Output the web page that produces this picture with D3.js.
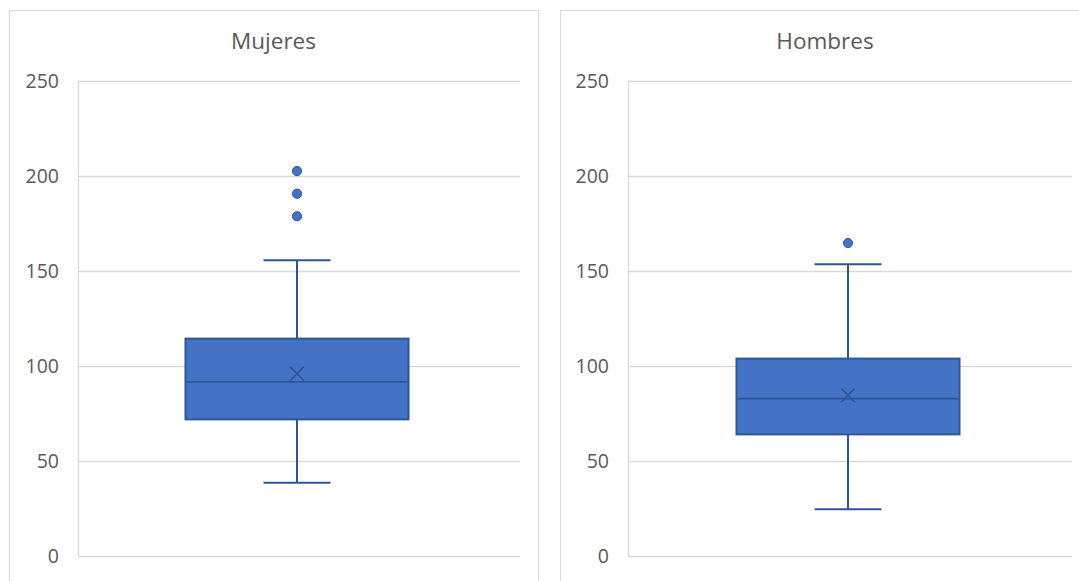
<!DOCTYPE html>
<html>
<head>
<meta charset="utf-8">
<script src="https://cdn.jsdelivr.net/npm/d3@7"></script>
<style>
  html, body { margin: 0; padding: 0; background: #fff; }
  svg { display: block; }
  text { font-family: "Open Sans", "Noto Sans", sans-serif; fill: #595959; }
</style>
</head>
<body>
<svg id="chart" width="1079" height="581"></svg>
<script>
// Box-plot summaries for each group
const groups = ["Mujeres", "Hombres"];
const lowerWhisker = [38.6, 24.6];
const q1 = [71.9, 64.0];
const median = [91.6, 82.8];
const q3 = [114.4, 103.9];
const upperWhisker = [155.6, 153.5];
const means = [96.0, 84.6];
const outliers = [[202.6, 190.7, 178.8], [164.7]];
const yTicks = [0, 50, 100, 150, 200, 250];

const svg = d3.select("#chart");

// Panel frames and plot areas
const panels = [
  { frame: [9, 10, 538, 600], plot: [78, 81, 520, 556], title: 43 },
  { frame: [560, 10, 1090, 600], plot: [628, 81, 1072, 556], title: 43 }
];

const fill = "#4472C4", stroke = "#2F5597", grid = "#D9D9D9";

panels.forEach((p, i) => {
  const g = svg.append("g");
  const [fx0, fy0, fx1, fy1] = p.frame;
  g.append("rect")
    .attr("x", fx0 + 0.5).attr("y", fy0 + 0.5)
    .attr("width", fx1 - fx0).attr("height", fy1 - fy0)
    .attr("fill", "#fff").attr("stroke", grid).attr("stroke-width", 1);

  const [px0, py0, px1, py1] = p.plot;
  const y = d3.scaleLinear().domain([0, 250]).range([py1, py0]);
  const x = d3.scaleBand().domain([groups[i]]).range([px0, px1]).paddingInner(0).paddingOuter(0.25);

  // Gridlines
  g.selectAll("line.grid").data(yTicks).join("line")
    .attr("x1", px0).attr("x2", px1)
    .attr("y1", d => Math.round(y(d)) + 0.5).attr("y2", d => Math.round(y(d)) + 0.5)
    .attr("stroke", grid).attr("stroke-width", 1.3);
  // Left axis line
  g.append("line")
    .attr("x1", px0 + 0.5).attr("x2", px0 + 0.5)
    .attr("y1", py0).attr("y2", py1 + 0.5)
    .attr("stroke", grid).attr("stroke-width", 1.3);

  // Tick labels
  const axis = d3.axisLeft(y).tickValues(yTicks).tickSize(0).tickPadding(0);
  const ax = g.append("g").attr("transform", `translate(${px0 - 19},0)`).call(axis);
  ax.select(".domain").remove();
  ax.selectAll("text").style("font-size", "19.5px").attr("fill", "#595959")
    .attr("dy", "0.35em");

  // Title
  g.append("text")
    .attr("x", (fx0 + fx1) / 2)
    .attr("y", p.title)
    .attr("text-anchor", "middle").attr("dominant-baseline", "middle")
    .style("font-size", "22.5px")
    .text(groups[i]);

  const cx = x(groups[i]) + x.bandwidth() / 2 - 2;
  const bw = 223, capW = 67;

  // Whiskers
  g.append("line").attr("x1", cx).attr("x2", cx)
    .attr("y1", y(upperWhisker[i])).attr("y2", y(q3[i]))
    .attr("stroke", stroke).attr("stroke-width", 2);
  g.append("line").attr("x1", cx).attr("x2", cx)
    .attr("y1", y(q1[i])).attr("y2", y(lowerWhisker[i]))
    .attr("stroke", stroke).attr("stroke-width", 2);
  [upperWhisker[i], lowerWhisker[i]].forEach(v => {
    g.append("line").attr("x1", cx - capW / 2).attr("x2", cx + capW / 2)
      .attr("y1", y(v)).attr("y2", y(v))
      .attr("stroke", stroke).attr("stroke-width", 2);
  });

  // Box
  g.append("rect")
    .attr("x", cx - bw / 2).attr("y", y(q3[i]))
    .attr("width", bw).attr("height", y(q1[i]) - y(q3[i]))
    .attr("fill", fill).attr("stroke", stroke).attr("stroke-width", 2);
  // Median
  g.append("line").attr("x1", cx - bw / 2).attr("x2", cx + bw / 2)
    .attr("y1", y(median[i])).attr("y2", y(median[i]))
    .attr("stroke", stroke).attr("stroke-width", 1.8);
  // Mean marker
  const m = y(means[i]), s = 7;
  g.append("path")
    .attr("d", `M${cx - s},${m - s}L${cx + s},${m + s}M${cx - s},${m + s}L${cx + s},${m - s}`)
    .attr("stroke", stroke).attr("stroke-width", 1.6).attr("fill", "none");

  // Outliers
  g.selectAll("circle.out").data(outliers[i]).join("circle")
    .attr("cx", cx).attr("cy", d => y(d)).attr("r", 4.6)
    .attr("fill", fill).attr("stroke", stroke).attr("stroke-width", 1);
});
</script>
</body>
</html>
